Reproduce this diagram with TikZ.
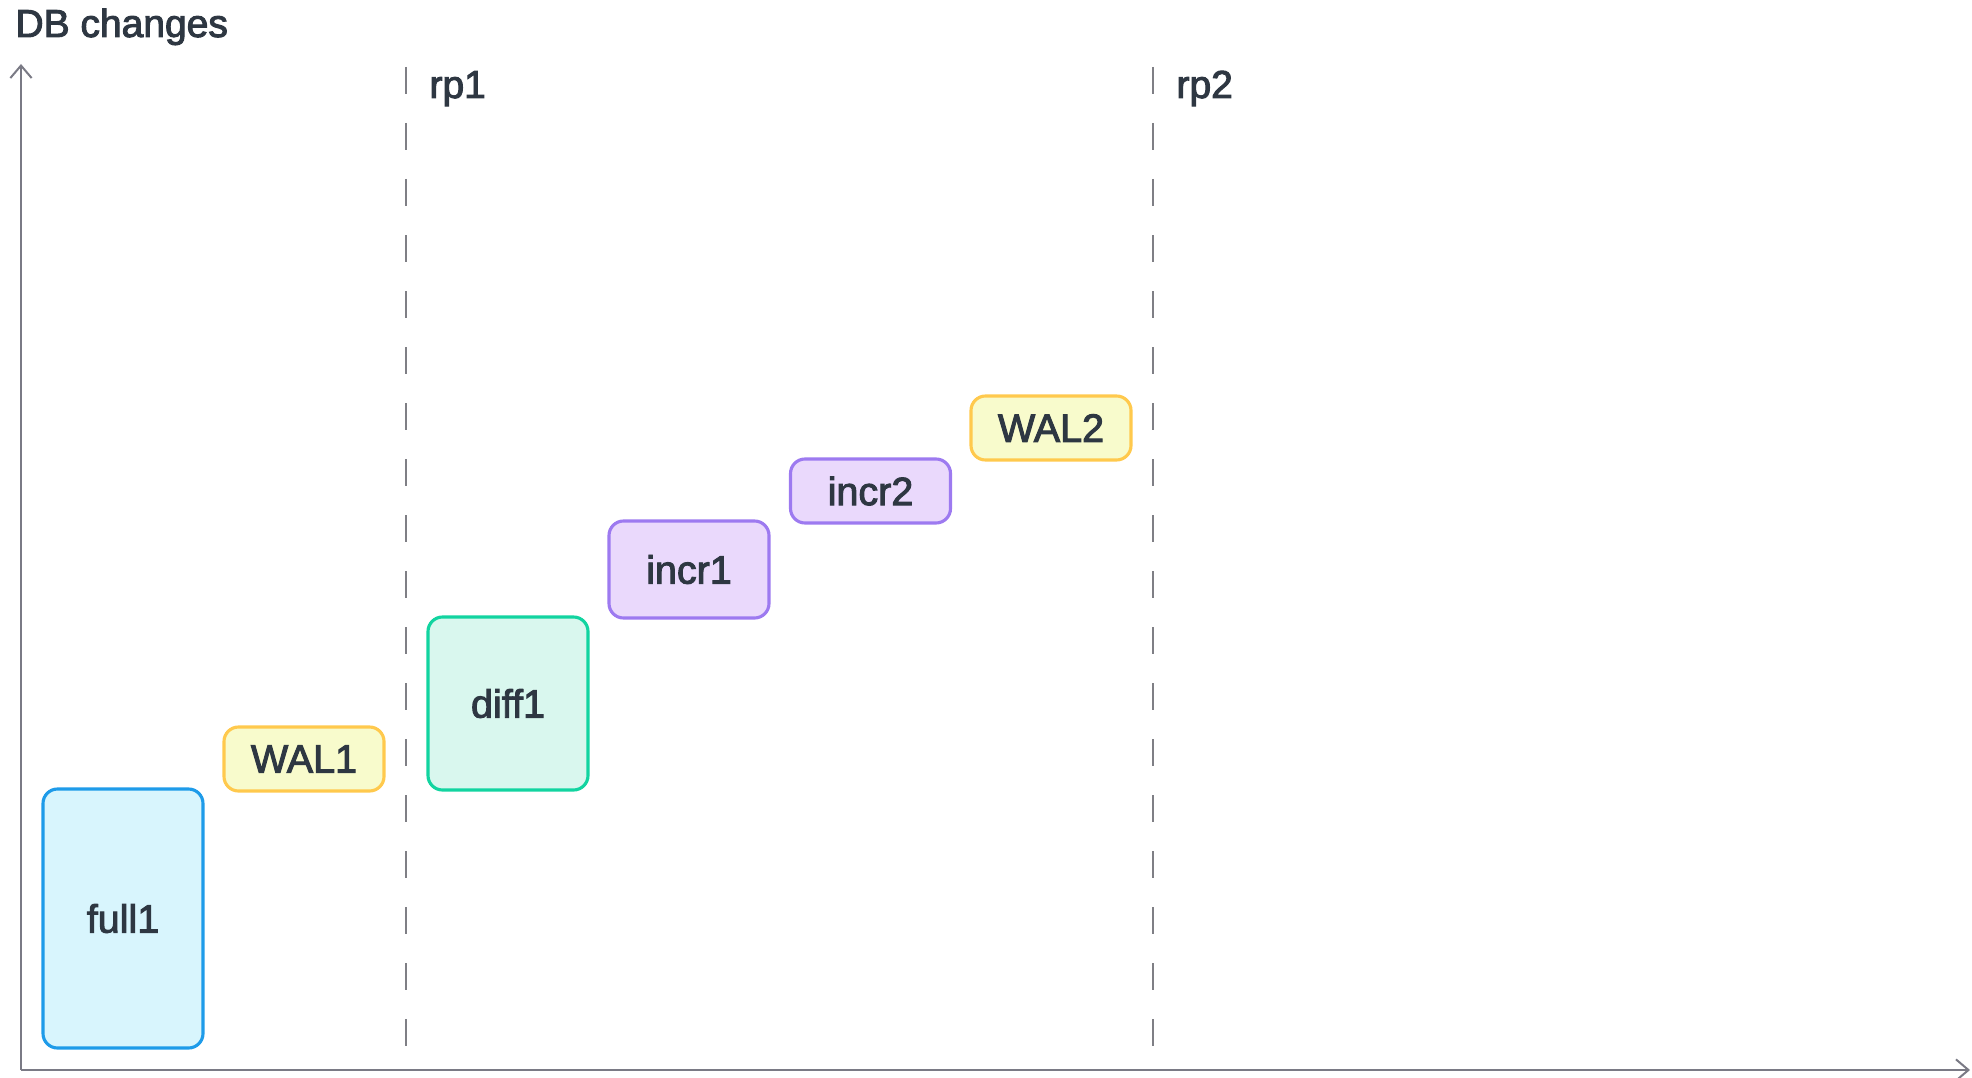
\documentclass[tikz,border=0pt]{standalone}
\usepackage{fontspec}
\setmainfont{Liberation Sans}
\newfontfamily\medfont{Liberation Sans}[FakeBold=2.5]
\usetikzlibrary{arrows.meta}
\definecolor{txt}{HTML}{2E3742}
\definecolor{axisgray}{HTML}{7A7A85}
\definecolor{dashgray}{HTML}{7F7F85}
\definecolor{fullstroke}{HTML}{1E9BE9}
\definecolor{fullfill}{HTML}{D8F5FD}
\definecolor{walstroke}{HTML}{FFC94D}
\definecolor{walfill}{HTML}{F8FBCC}
\definecolor{diffstroke}{HTML}{12D4A0}
\definecolor{difffill}{HTML}{D9F7EE}
\definecolor{incrstroke}{HTML}{9D7AF0}
\definecolor{incrfill}{HTML}{EAD9FC}
\tikzset{
  bk/.style={rounded corners=5.8pt, line width=1.25pt, minimum width=64pt, inner sep=0pt, text=txt, font=\medfont\fontsize{15.8}{18}\selectfont},
  fullbox/.style={bk, draw=fullstroke, fill=fullfill},
  walbox/.style={bk, draw=walstroke, fill=walfill},
  diffbox/.style={bk, draw=diffstroke, fill=difffill},
  incrbox/.style={bk, draw=incrstroke, fill=incrfill},
  lbl/.style={text=txt, inner sep=0pt, anchor=base west, font=\medfont\fontsize{15.6}{18}\selectfont},
  axisline/.style={draw=axisgray, line width=0.8pt, -{Straight Barb[length=5pt,width=8.5pt,line width=0.8pt]}},
  rpline/.style={draw=dashgray, line width=1pt, dash pattern=on 10.8pt off 11.6pt}
}
\begin{document}
\begin{tikzpicture}[x=0.4pt, y=-0.4pt]
\useasboundingbox (0,0) rectangle (1972,1078);
% axes
\coordinate (origin) at (21,1070);
\coordinate (ytip) at (21,64);
\coordinate (xtip) at (1970,1070);
\draw[axisline] (origin) -- (ytip);
\draw[axisline] (origin) -- (xtip);
% restore point lines
\coordinate (rp1top) at (406,67);
\coordinate (rp1bot) at (406,1058);
\coordinate (rp2top) at (1153,67);
\coordinate (rp2bot) at (1153,1058);
\draw[rpline] (rp1top) -- (rp1bot);
\draw[rpline] (rp2top) -- (rp2bot);
% labels
\node[lbl] (title) at (15,37) {DB changes};
\node[lbl] (rp1) at (429,98) {rp1};
\node[lbl] (rp2) at (1176,98) {rp2};
% boxes
\node[fullbox, minimum height=103.6pt] (full1) at (123,918.5) {full1};
\node[walbox, minimum height=25.6pt] (wal1) at (304,759) {WAL1};
\node[diffbox, minimum height=69.2pt] (diff1) at (508,703.5) {diff1};
\node[incrbox, minimum height=38.8pt] (incr1) at (689,569.5) {incr1};
\node[incrbox, minimum height=25.6pt] (incr2) at (870.5,491) {incr2};
\node[walbox, minimum height=25.6pt] (wal2) at (1051,428) {WAL2};
\end{tikzpicture}
\end{document}
